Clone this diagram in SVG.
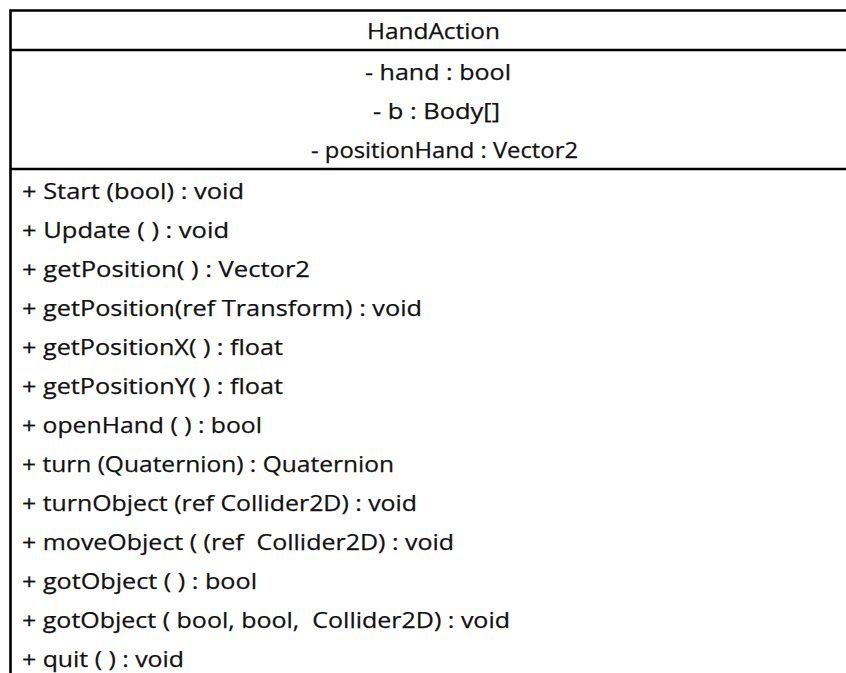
<svg xmlns="http://www.w3.org/2000/svg" width="846" height="673" viewBox="0 0 846 673">
  <style>
    .frame { stroke: #000; stroke-width: 2.6; fill: none; }
    .t { font-family: "Open Sans", "Liberation Sans", sans-serif; font-size: 21.5px; fill: #111; stroke: #111; stroke-width: 0.25; white-space: pre; }
  </style>
  <rect width="846" height="673" fill="#fff"/>

  <!-- class box: HandAction -->
  <g id="HandAction">
    <!-- outline and compartment separators (box runs past the right edge) -->
    <path class="frame" d="M10.5 673 V10.5 H846"/>
    <line class="frame" x1="10" y1="50" x2="846" y2="50"/>
    <line class="frame" x1="10" y1="169" x2="846" y2="169"/>

    <!-- name -->
    <text class="t" x="367" y="39" textLength="133" lengthAdjust="spacingAndGlyphs">HandAction</text>

    <!-- attributes -->
    <text class="t" x="365" y="80" textLength="146" lengthAdjust="spacingAndGlyphs">- hand : bool</text>
    <text class="t" x="373" y="119" textLength="127" lengthAdjust="spacingAndGlyphs">- b : Body[]</text>
    <text class="t" x="311" y="158" textLength="267" lengthAdjust="spacingAndGlyphs">- positionHand : Vector2</text>

    <!-- operations -->
    <text class="t" x="22" y="199" textLength="222" lengthAdjust="spacingAndGlyphs">+ Start (bool) : void</text>
    <text class="t" x="22" y="238" textLength="207" lengthAdjust="spacingAndGlyphs">+ Update ( ) : void</text>
    <text class="t" x="22" y="277" textLength="288" lengthAdjust="spacingAndGlyphs">+ getPosition( ) : Vector2</text>
    <text class="t" x="22" y="316" textLength="400" lengthAdjust="spacingAndGlyphs">+ getPosition(ref Transform) : void</text>
    <text class="t" x="22" y="355" textLength="261" lengthAdjust="spacingAndGlyphs">+ getPositionX( ) : float</text>
    <text class="t" x="22" y="394" textLength="261" lengthAdjust="spacingAndGlyphs">+ getPositionY( ) : float</text>
    <text class="t" x="22" y="433" textLength="240" lengthAdjust="spacingAndGlyphs">+ openHand ( ) : bool</text>
    <text class="t" x="22" y="472" textLength="372" lengthAdjust="spacingAndGlyphs">+ turn (Quaternion) : Quaternion</text>
    <text class="t" x="22" y="511" textLength="395" lengthAdjust="spacingAndGlyphs">+ turnObject (ref Collider2D) : void</text>
    <text class="t" x="22" y="550" textLength="432" lengthAdjust="spacingAndGlyphs" xml:space="preserve">+ moveObject ( (ref  Collider2D) : void</text>
    <text class="t" x="22" y="589" textLength="235" lengthAdjust="spacingAndGlyphs">+ gotObject ( ) : bool</text>
    <text class="t" x="22" y="628" textLength="488" lengthAdjust="spacingAndGlyphs" xml:space="preserve">+ gotObject ( bool, bool,  Collider2D) : void</text>
    <text class="t" x="22" y="667" textLength="162" lengthAdjust="spacingAndGlyphs">+ quit ( ) : void</text>
  </g>

  <!-- connectors: none in this diagram -->
  <g id="connectors"/>
</svg>
